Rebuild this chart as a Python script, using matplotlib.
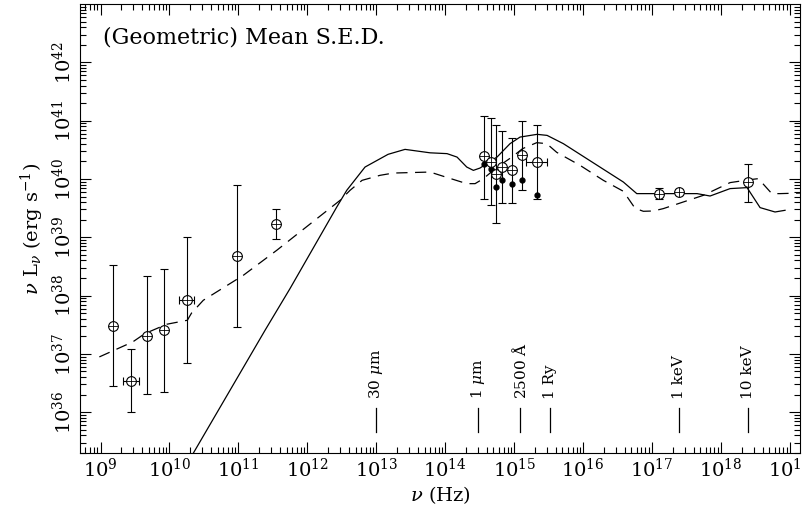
import numpy as np
import matplotlib
matplotlib.use("Agg")
import matplotlib.pyplot as plt
from matplotlib.ticker import FixedLocator, LogFormatterMathtext, NullFormatter

plt.rcParams['font.family'] = 'DejaVu Serif'
plt.rcParams['mathtext.fontset'] = 'dejavuserif'

# Open-circle photometry (log nu, log nuLnu, lower / upper log errors)
PHOT_LOGNU = [9.177, 9.447, 9.679, 9.921, 10.25, 10.98, 11.54,
              14.567, 14.659, 14.736, 14.827, 14.968, 15.117, 15.33,
              17.096, 17.39, 18.39]
PHOT_LOGL = [37.47, 36.54, 37.31, 37.41, 37.92, 38.68, 39.23,
             40.39, 40.29, 40.09, 40.205, 40.15, 40.41, 40.29,
             39.75, 39.78, 39.94]
PHOT_LOGL_LO = [36.445, 36.01, 36.31, 36.35, 36.845, 37.46, 38.97,
                39.66, 39.55, 39.245, 39.595, 39.59, 39.81, 39.66,
                39.65, 39.73, 39.605]
PHOT_LOGL_HI = [38.52, 37.08, 38.33, 38.46, 39.0, 39.89, 39.485,
                41.086, 41.04, 40.93, 40.82, 40.71, 40.99, 40.92,
                39.845, 39.83, 40.25]
# points with horizontal error bars
XERR_LOGNU = [9.447, 10.25, 15.33]
XERR_LOGL = [36.54, 37.92, 40.29]
XERR_LO = [9.331, 10.14, 15.17]
XERR_HI = [9.563, 10.35, 15.475]

# filled dots below the optical/UV points
DOT_LOGNU = [14.567, 14.659, 14.736, 14.827, 14.968, 15.117, 15.33]
DOT_LOGL = [40.26, 40.165, 39.857, 39.98, 39.91, 39.99, 39.73]

# solid curve
SOLID_LOGNU = [10.10, 10.371, 11.386, 11.748, 12.426, 12.571, 12.836, 13.17, 13.416,
               13.779, 14.025, 14.17, 14.311, 14.407, 14.504, 14.606, 14.75,
               14.939, 15.084, 15.331, 15.476, 15.712, 16.582, 16.777, 17.115,
               17.651, 17.84, 18.13, 18.376, 18.565, 18.782, 18.927]
SOLID_LOGL = [34.80, 35.348, 37.405, 38.12, 39.519, 39.806, 40.205, 40.423, 40.508,
              40.449, 40.435, 40.376, 40.205, 40.148, 40.188, 40.268, 40.376,
              40.606, 40.719, 40.766, 40.748, 40.606, 39.948, 39.749, 39.749,
              39.749, 39.708, 39.835, 39.852, 39.509, 39.434, 39.463]

# dashed curve
DASH_LOGNU = [8.983, 9.467, 9.645, 9.96, 10.26, 10.285, 10.32, 10.491, 11.071,
              11.556, 12.474, 12.619, 12.793, 13.054, 13.247, 13.779, 13.972,
              14.311, 14.432, 14.552, 14.75, 14.97, 15.12, 15.326, 15.471,
              15.616, 15.954, 16.292, 16.582, 16.752, 16.872, 17.017, 17.162,
              17.743, 18.13, 18.42, 18.54, 18.735, 18.855, 19.145]
DASH_LOGL = [36.948, 37.205, 37.349, 37.508, 37.577, 37.63, 37.70, 37.92, 38.348,
             38.777, 39.634, 39.806, 39.977, 40.063, 40.102, 40.119, 40.046,
             39.92, 39.92, 40.006, 40.20, 40.38, 40.52, 40.623, 40.606,
             40.457, 40.234, 39.977, 39.789, 39.497, 39.446, 39.451, 39.492,
             39.72, 39.938, 39.989, 40.006, 39.749, 39.749, 39.759]

# reference frequency markers
MARK_NU = [1e13, 3e14, 1.2e15, 3.29e15, 2.42e17, 2.42e18]
MARK_LABELS = [r'30 $\mu$m', r'1 $\mu$m', r'2500 $\mathrm{\AA}$', '1 Ry', '1 keV', '10 keV']

X_DECADES = list(range(9, 20))
Y_DECADES = list(range(36, 43))

fig = plt.figure(figsize=(8.02, 5.13), dpi=100)
ax = fig.add_axes([0.0998, 0.117, 0.8978, 0.875])

p = lambda v: 10 ** np.asarray(v, dtype=float)

ax.plot(p(SOLID_LOGNU), p(SOLID_LOGL), color='black', lw=0.9)
ax.plot(p(DASH_LOGNU), p(DASH_LOGL), color='black', lw=0.9, linestyle=(0, (9, 6)))

nu = p(PHOT_LOGNU)
L = p(PHOT_LOGL)
yerr = [L - p(PHOT_LOGL_LO), p(PHOT_LOGL_HI) - L]
ax.errorbar(nu, L, yerr=yerr, fmt='none', ecolor='black', elinewidth=0.8,
            capsize=3, capthick=0.8)
xl = p(XERR_LOGL)
xn = p(XERR_LOGNU)
ax.errorbar(xn, xl, xerr=[xn - p(XERR_LO), p(XERR_HI) - xn], fmt='none',
            ecolor='black', elinewidth=0.8, capsize=3, capthick=0.8)
ax.plot(p(DOT_LOGNU), p(DOT_LOGL), 'o', color='black', ms=3.5)
ax.plot(nu, L, 'o', mfc='white', mec='black', mew=0.8, ms=7)
ax.plot(nu, L, '+', color='black', mew=0.6, ms=7)

# wavelength / energy markers
for f, lab in zip(MARK_NU, MARK_LABELS):
    ax.plot([f, f], [10 ** 35.66, 10 ** 36.07], color='black', lw=0.9)
    ax.text(f, 10 ** 36.22, lab, rotation=90, ha='center', va='bottom', fontsize=11)

ax.text(0.032, 0.926, '(Geometric) Mean S.E.D.', transform=ax.transAxes,
        fontsize=16, va='center', ha='left')

ax.set_xscale('log')
ax.set_yscale('log')
ax.set_xlim(10 ** 8.703, 10 ** 19.145)
ax.set_ylim(10 ** 35.30, 10 ** 43.0)

# major ticks only at decades inside the box, minor ticks at 2..9
ax.xaxis.set_major_locator(FixedLocator(p(X_DECADES)))
ax.xaxis.set_minor_locator(FixedLocator([m * 10.0 ** d for d in range(8, 20) for m in range(2, 10)
                                         if 8.703 < d + np.log10(m) < 19.145]))
ax.xaxis.set_minor_formatter(NullFormatter())
ax.yaxis.set_major_locator(FixedLocator(p(Y_DECADES)))
ax.yaxis.set_minor_locator(FixedLocator([m * 10.0 ** d for d in range(35, 43) for m in range(2, 10)
                                         if 35.30 < d + np.log10(m) < 43.0]))
ax.yaxis.set_minor_formatter(NullFormatter())
ax.xaxis.set_major_formatter(LogFormatterMathtext())
ax.yaxis.set_major_formatter(LogFormatterMathtext())

ax.tick_params(which='both', direction='in', top=True, right=True, labelsize=14)
ax.tick_params(which='major', length=8, width=0.8)
ax.tick_params(which='minor', length=4, width=0.8)
for lab in ax.get_yticklabels():
    lab.set_rotation(90)
    lab.set_va('center')

ax.set_xlabel(r'$\nu$ (Hz)', fontsize=14, labelpad=2)
ax.set_ylabel(r'$\nu$ L$_\nu$ (erg s$^{-1}$)', fontsize=14, labelpad=4)

fig.savefig('out.png', dpi=100)
